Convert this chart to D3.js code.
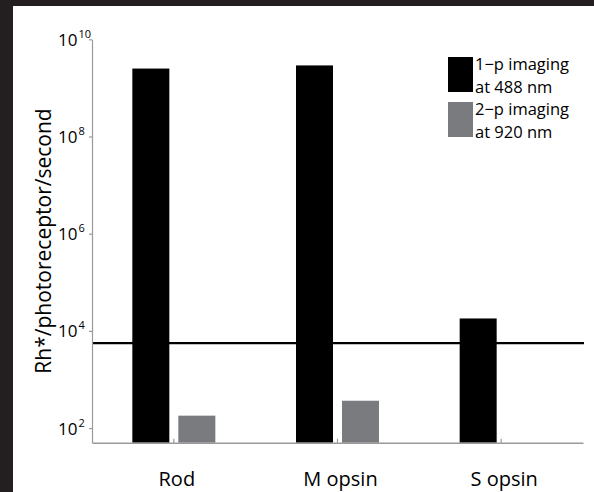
<!DOCTYPE html>
<html>
<head>
<meta charset="utf-8">
<script src="https://cdn.jsdelivr.net/npm/d3@7"></script>
<style>
  html, body { margin: 0; padding: 0; background: #231f20; }
  svg { display: block; }
  text { font-family: "Open Sans", "Noto Sans", sans-serif; fill: #000; }
</style>
</head>
<body>
<svg id="chart" width="594" height="492"></svg>
<script>
// Photoisomerization rates per photoreceptor type
const categories = ["Rod", "M opsin", "S opsin"];
const onePhoton = [2.5e9, 2.9e9, 1.8e4];   // 1-p imaging at 488 nm
const twoPhoton = [180, 365, null];        // 2-p imaging at 920 nm
const threshold = 5.6e3;
const yTickValues = [1e2, 1e4, 1e6, 1e8, 1e10];
const yTickExponents = ["2", "4", "6", "8", "10"];
const seriesNames = [["1\u2212p imaging", "at 488 nm"], ["2\u2212p imaging", "at 920 nm"]];
const seriesColors = ["#000000", "#7a7b7f"];

const svg = d3.select("#chart");
const W = 594, H = 492;

// white panel inside the dark frame
svg.append("rect").attr("x", 13).attr("y", 6).attr("width", W - 13).attr("height", H - 6).attr("fill", "#fff");

const x = d3.scaleBand().domain(categories).range([92, 583]).padding(0);
const y = d3.scaleLog().domain([50, 1e10]).range([442.7, 39.3]);
const barW = 37, barOff = 23;
const axisGrey = "#9a9a9a";

// bars
const g = svg.append("g");
categories.forEach((c, i) => {
  const cx = x(c) + x.bandwidth() / 2;
  if (onePhoton[i] != null) {
    g.append("rect").attr("x", cx - barOff - barW / 2).attr("y", y(onePhoton[i]))
      .attr("width", barW).attr("height", y(50) - y(onePhoton[i])).attr("fill", seriesColors[0]);
  }
  if (twoPhoton[i] != null) {
    g.append("rect").attr("x", cx + barOff - barW / 2).attr("y", y(twoPhoton[i]))
      .attr("width", barW).attr("height", y(50) - y(twoPhoton[i])).attr("fill", seriesColors[1]);
  }
});

// threshold line
svg.append("line").attr("x1", 92).attr("x2", 584)
  .attr("y1", y(threshold)).attr("y2", y(threshold))
  .attr("stroke", "#000").attr("stroke-width", 2.2);

// y axis
const yAxis = d3.axisLeft(y).tickValues(yTickValues).tickSize(3).tickSizeOuter(0).tickFormat("");
const ya = svg.append("g").attr("transform", "translate(92,0)").call(yAxis);
ya.select(".domain").attr("stroke", axisGrey).attr("stroke-width", 1.2);
ya.selectAll(".tick line").attr("stroke", axisGrey).attr("stroke-width", 1.2);
ya.selectAll(".tick").each(function (d, i) {
  const t = d3.select(this).append("text").attr("x", -34).attr("y", 6)
    .attr("text-anchor", "start").style("font-size", "17px").attr("fill", "#000");
  t.append("tspan").text("10");
  t.append("tspan").attr("dx", 1).attr("dy", -8).style("font-size", "11px").text(yTickExponents[i]);
});

// x axis
const xAxis = d3.axisBottom(x).tickSize(-4).tickSizeOuter(0).tickFormat("");
const xa = svg.append("g").attr("transform", "translate(0,442.7)").call(xAxis);
xa.select(".domain").attr("stroke", axisGrey).attr("stroke-width", 1.5);
xa.selectAll(".tick line").attr("stroke", axisGrey).attr("stroke-width", 1.2);
xa.selectAll(".tick").append("text").attr("y", 43.5).attr("x", 3)
  .attr("text-anchor", "middle").style("font-size", "20px").attr("fill", "#000")
  .text(d => d);

// y axis title
svg.append("text").attr("transform", "translate(51,241) rotate(-90)")
  .attr("text-anchor", "middle").style("font-size", "21px").text("Rh*/photoreceptor/second");

// legend: swatch plus a two-line caption per series
const leg = svg.append("g").attr("transform", "translate(448,57)");
seriesNames.forEach((lines, i) => {
  const row = leg.append("g").attr("transform", `translate(0,${i * 45})`);
  row.append("rect").attr("width", 25).attr("height", 35).attr("fill", seriesColors[i]);
  lines.forEach((s, j) => {
    row.append("text").attr("x", 27).attr("y", 13 + j * 22.5).style("font-size", "16.5px").text(s);
  });
});
</script>
</body>
</html>
